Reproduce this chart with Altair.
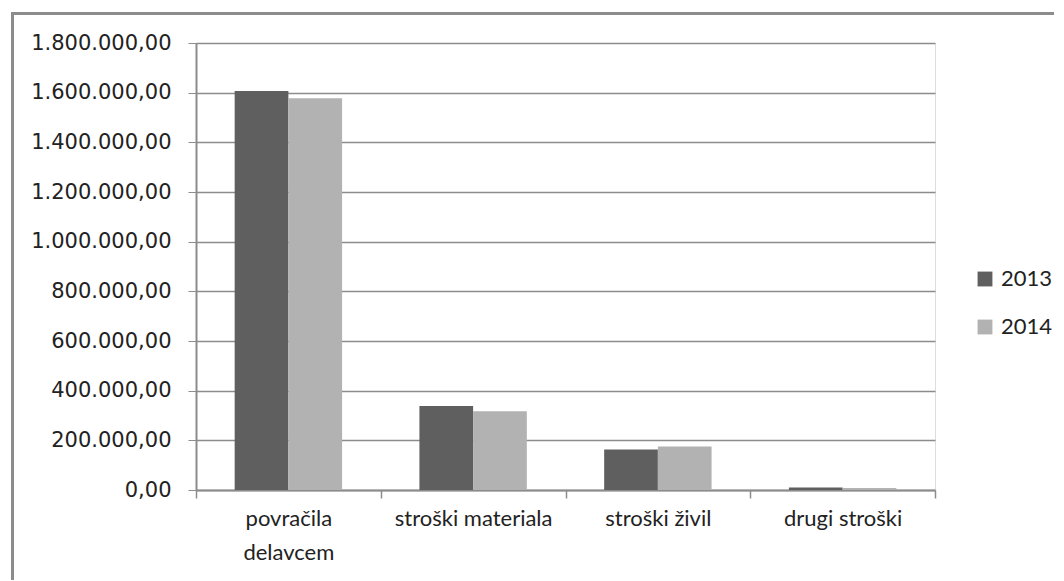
import altair as alt
import pandas as pd

categories = ["povračila delavcem", "stroški materiala", "stroški živil", "drugi stroški"]
years = ["2013", "2014"]
values_2013 = [1607000, 338000, 163000, 10000]
values_2014 = [1578000, 317000, 175000, 8000]
y_ticks = [0, 200000, 400000, 600000, 800000, 1000000, 1200000, 1400000, 1600000, 1800000]
colors = ["#5f5f5f", "#b2b2b2"]

rows = []
for c, a, b in zip(categories, values_2013, values_2014):
    rows.append({"kategorija": c, "leto": "2013", "vrednost": a})
    rows.append({"kategorija": c, "leto": "2014", "vrednost": b})
df = pd.DataFrame(rows)

W, H = 739, 447

bars = alt.Chart(df).mark_bar().encode(
    x=alt.X("kategorija:N", sort=categories,
            scale=alt.Scale(paddingInner=0, paddingOuter=0),
            axis=alt.Axis(title=None, labelAngle=0, tickBand="extent", ticks=True,
                          tickSize=8, tickColor="#8c8c8c", domainColor="#8c8c8c",
                          domainWidth=2, tickWidth=1.5,
                          labelFont="Lato", labelFontSize=22,
                          labelColor="#222222", labelPadding=10, labelLineHeight=34,
                          labelBaseline="top", labelLimit=300,
                          labelExpr="datum.label == 'povračila delavcem' ? ['povračila', 'delavcem'] : datum.label")),
    xOffset=alt.XOffset("leto:N", sort=years, scale=alt.Scale(paddingOuter=0.72, paddingInner=0)),
    y=alt.Y("vrednost:Q", scale=alt.Scale(domain=[0, 1800000], nice=False),
            axis=alt.Axis(title=None, values=y_ticks, format=",.2f",
                          tickSize=8, tickColor="#8c8c8c", domainColor="#8c8c8c",
                          domainWidth=2, gridColor="#8c8c8c", gridWidth=1.5,
                          labelFont="DejaVu Sans", labelFontSize=21, labelColor="#222222",
                          labelPadding=17)),
    color=alt.Color("leto:N", sort=years, scale=alt.Scale(domain=years, range=colors),
                    legend=alt.Legend(title=None, orient="none", legendX=778, legendY=225,
                                      symbolType="square", symbolSize=220, symbolStrokeWidth=0,
                                      labelFont="Lato", labelFontSize=22,
                                      labelColor="#222222", rowPadding=26, labelOffset=5)),
)

frame_data = alt.Data(values=[{"k": 1}])
frame_left = alt.Chart(frame_data).mark_rule(color="#8c8c8c", strokeWidth=3).encode(
    x=alt.value(-183.5), y=alt.value(-31), y2=alt.value(545))
frame_top = alt.Chart(frame_data).mark_rule(color="#8c8c8c", strokeWidth=3).encode(
    y=alt.value(-29.5), x=alt.value(-185), x2=alt.value(870))

chart = alt.layer(bars, frame_left, frame_top).properties(
    width=W, height=H,
    autosize=alt.AutoSizeParams(type="none"),
    padding={"left": 188, "top": 35, "right": 119, "bottom": 90},
).configure_view(stroke=None).configure(
    locale={"number": {"decimal": ",", "thousands": ".", "grouping": [3], "currency": ["", " €"]}}
)

chart.save("out.html", embed_options={"renderer": "svg", "actions": False})
